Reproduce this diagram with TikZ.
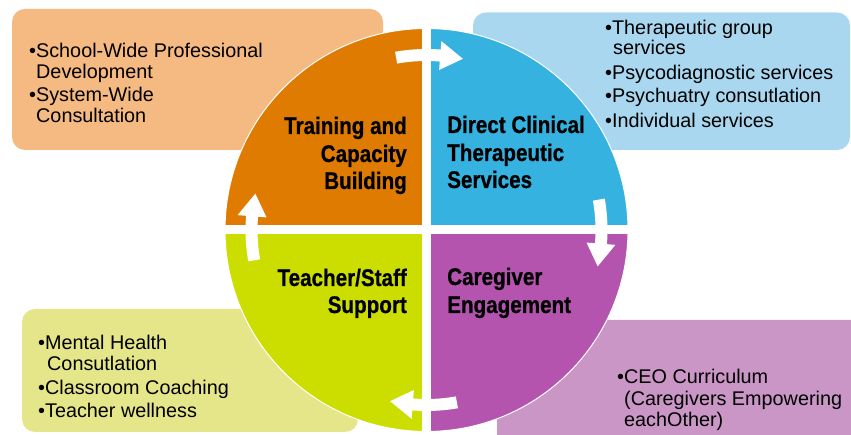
\documentclass[tikz,border=0pt]{standalone}
\usepackage{fontspec}
\setmainfont{Liberation Sans}
\newfontfamily\labelfont[FakeStretch=0.86,FakeBold=0.6]{Liberation Sans}
\usetikzlibrary{calc}
\definecolor{qorange}{RGB}{222,123,0}
\definecolor{qblue}{RGB}{53,178,224}
\definecolor{qpurple}{RGB}{180,84,174}
\definecolor{qgreen}{RGB}{204,221,0}
\definecolor{borange}{RGB}{245,185,130}
\definecolor{bblue}{RGB}{169,215,239}
\definecolor{bgreen}{RGB}{229,230,138}
\definecolor{bpurple}{RGB}{201,150,198}
\newcommand{\cycarrow}[1]{%
 \pgfmathsetmacro{\arS}{#1+10}%
 \pgfmathsetmacro{\arB}{#1-4.5}%
 \pgfmathsetmacro{\arT}{#1-12}%
 \fill[cyclearrow] ($(C)+(\arS:181)$) arc[start angle=\arS, end angle=\arB, radius=181pt]
   -- ($(C)+(\arB:189.5)$) -- ($(C)+(\arT:175)$) -- ($(C)+(\arB:160.5)$)
   -- ($(C)+(\arB:169)$) arc[start angle=\arB, end angle=\arS, radius=169pt] -- cycle;}
\begin{document}
\begin{tikzpicture}[x=1pt,y=1pt,
  itemtext/.style={anchor=base west, inner sep=0pt, font=\fontsize{19.8}{23}\selectfont},
  lbl/.style={inner sep=0pt, font=\labelfont\bfseries\fontsize{24}{28}\selectfont},
  lblL/.style={lbl, anchor=base east},
  lblR/.style={lbl, anchor=base west},
  infobox/.style={rounded corners=13pt},
  cyclearrow/.style={fill=white, draw=none}]
\useasboundingbox (0,0) rectangle (851,435);
\clip (0,0) rectangle (851,435);
% side boxes
\fill[borange, infobox] (12,285) rectangle (383,426);
\fill[bblue, infobox] (473,285) rectangle (850,422.5);
\fill[bgreen, infobox] (22,3) rectangle (358,126);
\fill[bpurple, infobox] (497,-20) rectangle (880,115);
% circle
\coordinate (C) at (426.5,205);
\begin{scope}
  \clip (C) circle[radius=201.5pt];
  \fill[qorange] ($(C)+(-210,4.5)$) rectangle ($(C)+(-4.5,210)$);
  \fill[qblue] ($(C)+(4.5,4.5)$) rectangle ($(C)+(210,210)$);
  \fill[qpurple] ($(C)+(4.5,-4.5)$) rectangle ($(C)+(210,-210)$);
  \fill[qgreen] ($(C)+(-210,-4.5)$) rectangle ($(C)+(-4.5,-210)$);
\end{scope}
\draw[white, line width=1pt] (C) circle[radius=201.5pt];
% cycle arrows
\cycarrow{90}
\cycarrow{0}
\cycarrow{-90}
\cycarrow{180}
% quadrant labels
\node[lblL] (tr1) at (407,301) {Training and};
\node[lblL] (tr2) at (407,273) {Capacity};
\node[lblL] (tr3) at (407,246) {Building};
\node[lblR] (dc1) at (447,302) {Direct Clinical};
\node[lblR] (dc2) at (447,274) {Therapeutic};
\node[lblR] (dc3) at (447,247) {Services};
\node[lblL] (ts1) at (407,149) {Teacher/Staff};
\node[lblL] (ts2) at (407,122) {Support};
\node[lblR] (ce1) at (447,150) {Caregiver};
\node[lblR] (ce2) at (447,122) {Engagement};
% box texts
\node[itemtext] (a1) at (29,377) {•School-Wide Professional};
\node[itemtext] (a2) at (36,356) {Development};
\node[itemtext] (a3) at (29,333) {•System-Wide};
\node[itemtext] (a4) at (36,312) {Consultation};
\node[itemtext] (b1) at (605,400) {•Therapeutic group};
\node[itemtext] (b2) at (613,380) {services};
\node[itemtext] (b3) at (605,355) {•Psycodiagnostic services};
\node[itemtext] (b4) at (605,332) {•Psychuatry consutlation};
\node[itemtext] (b5) at (605,307) {•Individual services};
\node[itemtext] (c1) at (38,85) {•Mental Health};
\node[itemtext] (c2) at (47,64) {Consutlation};
\node[itemtext] (c3) at (38,40) {•Classroom Coaching};
\node[itemtext] (c4) at (38,17) {•Teacher wellness};
\node[itemtext] (d1) at (617,51) {•CEO Curriculum};
\node[itemtext] (d2) at (624,29) {(Caregivers Empowering};
\node[itemtext] (d3) at (624,8) {eachOther)};
\end{tikzpicture}
\end{document}
